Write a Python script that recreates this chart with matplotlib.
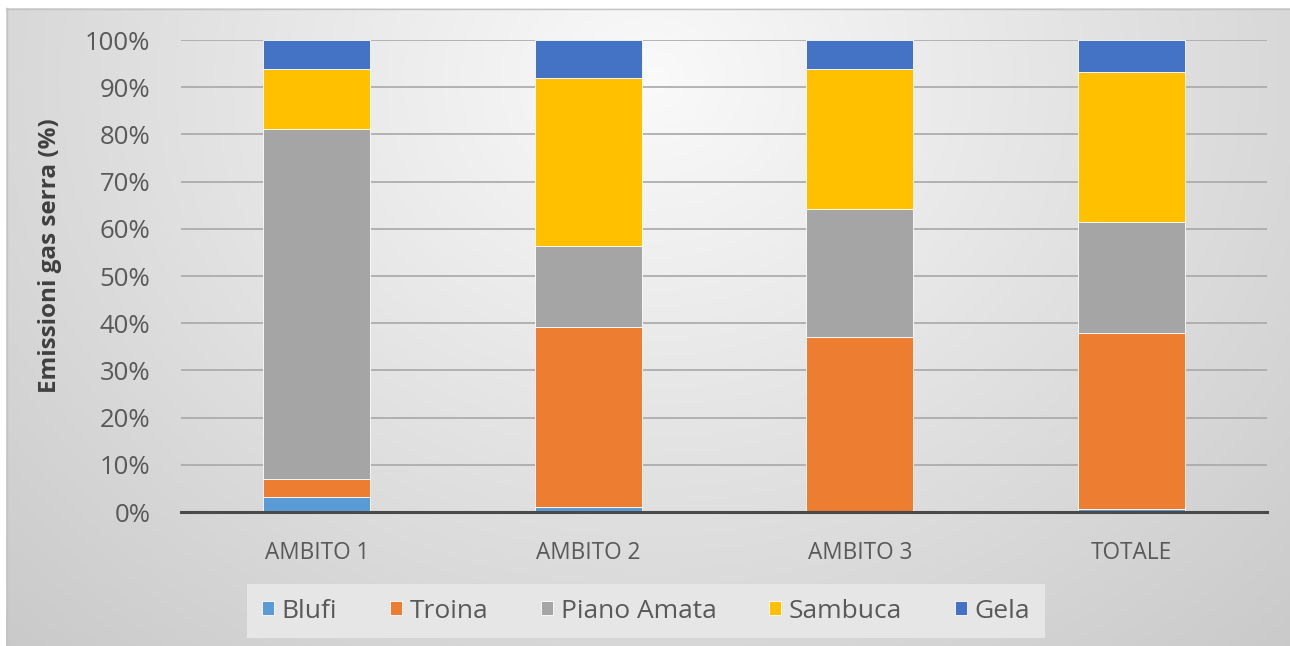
import numpy as np
import matplotlib
import matplotlib.pyplot as plt
from matplotlib.ticker import PercentFormatter, MultipleLocator

matplotlib.use('Agg')
plt.rcParams['font.family'] = ['Open Sans', 'DejaVu Sans']

# Share of greenhouse gas emissions per site (%)
categories = ['AMBITO 1', 'AMBITO 2', 'AMBITO 3', 'TOTALE']
blufi = [3.2, 1.1, 0.3, 0.6]
troina = [3.7, 38.0, 36.7, 37.3]
piano_amata = [74.2, 17.3, 27.3, 23.6]
sambuca = [12.7, 35.5, 29.5, 31.7]
gela = [6.2, 8.1, 6.2, 6.8]

series_names = ['Blufi', 'Troina', 'Piano Amata', 'Sambuca', 'Gela']
series_colors = ['#5b9bd5', '#ed7d31', '#a5a5a5', '#ffc000', '#4472c4']


def main():
    W, H = 1290, 646
    fig = plt.figure(figsize=(W / 100, H / 100), dpi=100, facecolor='white')

    # soft grey vignette behind the whole chart
    bg = fig.add_axes([0, 0, 1, 1], zorder=0)
    yy, xx = np.mgrid[0:H, 0:W]
    d = np.sqrt(((xx - 650) / 700.0) ** 2 + ((yy - 80) / 600.0) ** 2)
    v = np.clip(0.98 - 0.144 * d, 0, 1)
    v[(xx < 6) | (yy < 8)] = 1.0
    bg.imshow(np.dstack([v, v, v]), extent=(0, W, H, 0), aspect='auto', interpolation='bilinear')
    bg.plot([6, W], [8.5, 8.5], color='#c4c4c4', lw=1)
    bg.plot([6.5, 6.5], [8, H], color='#c4c4c4', lw=1)
    bg.set_xlim(0, W)
    bg.set_ylim(H, 0)
    bg.axis('off')

    ax = fig.add_axes([181 / W, 1 - 512 / H, 1086 / W, 472 / H], zorder=1)
    ax.set_facecolor('none')

    x = np.arange(len(categories))
    bottom = np.zeros(len(categories))
    data = [blufi, troina, piano_amata, sambuca, gela]
    for name, values, color in zip(series_names, data, series_colors):
        ax.bar(x, values, width=0.395, bottom=bottom, color=color, label=name,
               edgecolor='white', linewidth=0.6, zorder=2)
        bottom += np.array(values)

    ax.set_xlim(-0.5, len(categories) - 0.5)
    ax.set_ylim(0, 100)
    ax.yaxis.set_major_locator(MultipleLocator(10))
    ax.yaxis.set_major_formatter(PercentFormatter(100, decimals=0))
    ax.set_xticks(x)
    ax.set_xticklabels(categories)
    ax.tick_params(axis='both', length=0, labelcolor='#595959')
    ax.tick_params(axis='y', pad=22, labelsize=18.5)
    ax.tick_params(axis='x', pad=21, labelsize=16.3)
    ax.yaxis.grid(True, color='#a8a8a8', lw=1.2)
    ax.set_axisbelow(True)
    for side in ['top', 'right', 'left']:
        ax.spines[side].set_visible(False)
    ax.spines['bottom'].set_color('#4a4a4a')
    ax.spines['bottom'].set_linewidth(2.2)

    fig.text(50 / W, 1 - 256 / H, 'Emissioni gas serra (%)', rotation=90, ha='center', va='center',
             fontsize=17.5, fontweight='bold', color='#404040')

    leg = ax.legend(loc='center', bbox_to_anchor=(646 / W, 1 - 611 / H), bbox_transform=fig.transFigure,
                    ncol=5, fontsize=19, frameon=True, fancybox=False, handlelength=0.45, handleheight=0.45,
                    handletextpad=0.3, columnspacing=2.0, borderpad=0.55)
    leg.get_frame().set_facecolor('#e6e6e6')
    leg.get_frame().set_edgecolor('none')
    leg.get_frame().set_alpha(1)
    for t in leg.get_texts():
        t.set_color('#595959')

    fig.savefig('out.png', dpi=100)


if __name__ == '__main__':
    main()
